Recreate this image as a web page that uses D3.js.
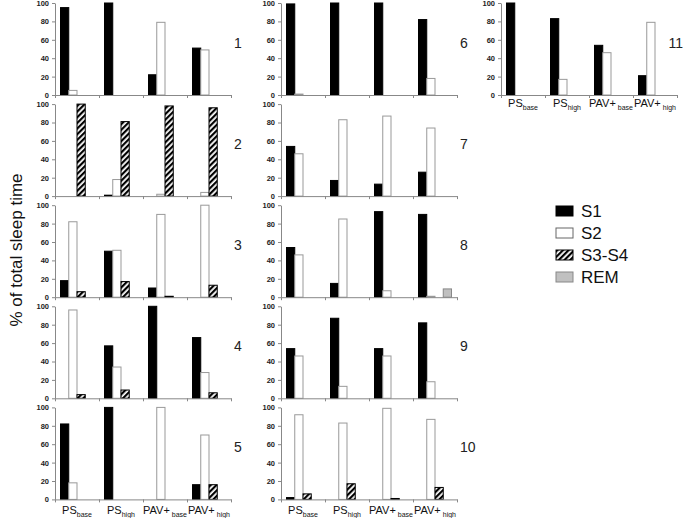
<!DOCTYPE html>
<html>
<head>
<meta charset="utf-8">
<script src="https://cdn.jsdelivr.net/npm/d3@7"></script>
<style>
  body { margin: 0; background: #fff; }
  text { font-family: "Liberation Sans", Arial, sans-serif; }
</style>
</head>
<body>
<div id="chart"></div>
<script>
const WIDTH = 685;
const HEIGHT = 518;

// === DATA ===
const categories = ["PS|base", "PS|high", "PAV+|base", "PAV+|high"];
const seriesNames = ["S1", "S2", "S3-S4", "REM"];
const panelLabels = ["1", "2", "3", "4", "5", "6", "7", "8", "9", "10", "11"];

// one row per panel, one value per category
const s1 = [
    [95, 100, 22, 51],
    [0, 1, 0, 0],
    [18, 50, 10, 0],
    [0, 57, 100, 66],
    [82, 100, 0, 16],
    [99, 100, 100, 82],
    [54, 17, 13, 26],
    [54, 15, 93, 90],
    [54, 87, 54, 82],
    [2, 0, 0, 0],
    [100, 83, 54, 21]
];
const s2 = [
    [5, 0, 79, 49],
    [0, 18, 2, 4],
    [82, 51, 90, 100],
    [96, 34, 0, 28],
    [18, 0, 100, 70],
    [1, 0, 0, 18],
    [46, 83, 87, 74],
    [46, 85, 7, 1],
    [46, 13, 46, 18],
    [92, 83, 99, 87],
    [0, 17, 46, 79]
];
const s34 = [
    [0, 0, 0, 0],
    [100, 81, 98, 96],
    [6, 17, 1, 13],
    [4, 9, 0, 6],
    [0, 0, 0, 16],
    [0, 0, 0, 0],
    [0, 0, 0, 0],
    [0, 0, 0, 0],
    [0, 0, 0, 0],
    [6, 17, 1, 13],
    [0, 0, 0, 0]
];
const rem = [
    [0, 0, 0, 0],
    [0, 0, 0, 0],
    [0, 0, 0, 0],
    [0, 0, 0, 0],
    [0, 0, 0, 0],
    [0, 0, 0, 0],
    [0, 0, 0, 0],
    [0, 0, 0, 9],
    [0, 0, 0, 0],
    [0, 0, 0, 0],
    [0, 0, 0, 0]
];
const yTicks = [0, 20, 40, 60, 80, 100];

// === LAYOUT ===
const COL_X = [55, 281, 501];
const PANEL_W = 176;
const PANEL_H = 92;
const ROW_STEP = 101.1;
const TOP = 3;

const svg = d3.select("#chart")
    .append("svg")
    .attr("width", WIDTH)
    .attr("height", HEIGHT);

// hatch for S3-S4
const defs = svg.append("defs");
const pat = defs.append("pattern")
    .attr("id", "hatch")
    .attr("patternUnits", "userSpaceOnUse")
    .attr("width", 4)
    .attr("height", 4)
    .attr("patternTransform", "rotate(45)");
pat.append("rect").attr("width", 4).attr("height", 4).attr("fill", "#fff");
pat.append("rect").attr("width", 2.2).attr("height", 4).attr("fill", "#000");

const fills = ["#000", "#fff", "url(#hatch)", "#c0c0c0"];
const strokes = ["#000", "#999", "#000", "#888"];

const x = d3.scaleBand().domain(d3.range(4)).range([0, PANEL_W]).paddingInner(0.25).paddingOuter(0.125);
const xs = d3.scaleBand().domain(d3.range(4)).range([0, x.bandwidth()]);
const y = d3.scaleLinear().domain([0, 100]).range([PANEL_H, 0]);

const allSeries = [s1, s2, s34, rem];

panelLabels.forEach((lab, p) => {
    const col = p < 5 ? 0 : (p < 10 ? 1 : 2);
    const row = p < 5 ? p : (p < 10 ? p - 5 : 0);
    const g = svg.append("g")
        .attr("transform", `translate(${COL_X[col]},${TOP + row * ROW_STEP})`);

    // bars
    categories.forEach((c, ci) => {
        allSeries.forEach((ser, si) => {
            const v = ser[p][ci];
            if (!v) return;
            g.append("rect")
                .attr("x", x(ci) + xs(si))
                .attr("y", y(v))
                .attr("width", xs.bandwidth())
                .attr("height", PANEL_H - y(v))
                .attr("fill", fills[si])
                .attr("stroke", strokes[si])
                .attr("stroke-width", 1);
        });
    });

    // y axis
    const ya = g.append("g")
        .call(d3.axisLeft(y).tickValues(yTicks).tickSize(3).tickSizeOuter(0));
    ya.select(".domain").attr("stroke", "#888");
    ya.selectAll(".tick line").attr("stroke", "#888");
    ya.selectAll(".tick text")
        .attr("x", -6)
        .style("font-size", "7.5px")
        .style("font-weight", "bold")
        .attr("fill", "#222");

    // x axis with ticks at category boundaries
    const xb = d3.scaleLinear().domain([0, 4]).range([0, PANEL_W]);
    const xa = g.append("g")
        .attr("transform", `translate(0,${PANEL_H})`)
        .call(d3.axisBottom(xb).tickValues([0, 1, 2, 3, 4]).tickSize(3).tickSizeOuter(0).tickFormat(""));
    xa.select(".domain").attr("stroke", "#888");
    xa.selectAll(".tick line").attr("stroke", "#888");

    // panel number
    if (col === 2) {
        g.append("text")
            .attr("x", WIDTH - 2 - COL_X[col])
            .attr("y", 45)
            .attr("text-anchor", "end")
            .style("font-size", "14px")
            .attr("fill", "#222")
            .text(lab);
    } else {
        g.append("text")
            .attr("x", PANEL_W + 3)
            .attr("y", 45)
            .style("font-size", "14px")
            .attr("fill", "#222")
            .text(lab);
    }

    // category labels on the bottom panels
    if (p === 4 || p === 9 || p === 10) {
        categories.forEach((c, ci) => {
            const parts = c.split("|");
            const t = g.append("text")
                .attr("x", x(ci) + x.bandwidth() / 2)
                .attr("y", PANEL_H + (p === 10 ? 12 : 15))
                .attr("text-anchor", "middle")
                .attr("fill", "#111");
            t.append("tspan").style("font-size", "11px").text(parts[0]);
            t.append("tspan").attr("dy", 3).attr("dx", parts[0].length > 2 ? 2 : 0)
                .style("font-size", "7px").text(parts[1]);
        });
    }
});

// y axis title
svg.append("text")
    .attr("transform", "translate(22,250) rotate(-90)")
    .attr("text-anchor", "middle")
    .style("font-size", "17px")
    .attr("fill", "#111")
    .text("% of total sleep time");

// legend
const leg = svg.append("g").attr("transform", "translate(556,206)");
seriesNames.forEach((s, i) => {
    const r = leg.append("g").attr("transform", `translate(0,${i * 22})`);
    r.append("rect")
        .attr("width", 17)
        .attr("height", 10)
        .attr("fill", fills[i])
        .attr("stroke", i === 1 ? "#666" : strokes[i]);
    r.append("text")
        .attr("x", 25)
        .attr("y", 11)
        .style("font-size", "17px")
        .attr("fill", "#111")
        .text(s);
});
</script>
</body>
</html>
